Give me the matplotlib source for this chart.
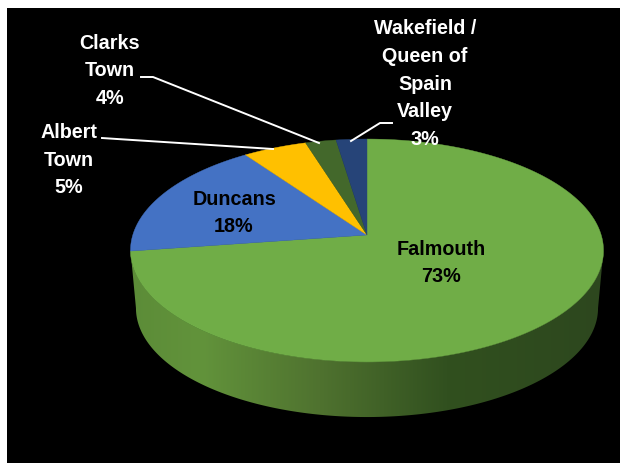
import numpy as np
import matplotlib
matplotlib.use("Agg")
import matplotlib.pyplot as plt
from matplotlib.patches import Rectangle, Polygon
from matplotlib.colors import LinearSegmentedColormap

categories = ["Falmouth", "Duncans", "Albert\nTown", "Clarks\nTown",
              "Wakefield /\nQueen of\nSpain\nValley"]
pct_labels = ["73%", "18%", "5%", "4%", "3%"]
# slice sizes as drawn; the printed labels don't quite match the geometry
shares = [72.7, 17.5, 5.0, 2.4, 2.4]

colors = ["#70AD47", "#4472C4", "#FFC000", "#43682B", "#264478"]
label_colors = ["black", "black", "white", "white", "white"]
label_pos = [(441, 263), (234, 213), (69, 160), (110, 71), (425, 84)]
leaders = [None, None,
           [(102, 138), (117, 139), (273, 149)],
           [(141, 77), (153, 77), (319, 143)],
           [(392, 123), (380, 123), (351, 141)]]

# perspective pie: k tilts the disc, apex is where the slices meet
K = 0.139


def project(theta, apex_x=367.0, apex_y=235.0, sx=234.2, sy=109.3):
    u, v = np.sin(theta), np.cos(theta)
    w = 1 + K * v
    return apex_x + sx * u / w, apex_y - sy * v / w


fig = plt.figure(figsize=(6.2, 4.63), dpi=100, facecolor="white")
ax = fig.add_axes([0, 0, 1, 1])
ax.axis("off")
ax.add_patch(Rectangle((7, 8), 613, 455, facecolor="black", edgecolor="none", zorder=0))

# side wall: lower half of the top rim + lower half of the bottom rim
th = np.linspace(np.pi / 2 + 0.139, 3 * np.pi / 2 - 0.139, 300)
tx, ty = project(th)
bx, by = project(th, apex_y=293.0, sx=228.8, sy=106.8)
wall_pts = np.column_stack([np.r_[tx, bx[::-1]], np.r_[ty, by[::-1]]])
wall = Polygon(wall_pts, closed=True, transform=ax.transData, facecolor="none", edgecolor="none")
ax.add_patch(wall)
wall_cmap = LinearSegmentedColormap.from_list(
    "wall",
    [(0.0, "#2d471e"), (0.33, "#31501f"), (0.60, "#4f722f"), (0.85, "#62933b"), (1.0, "#5c8c38")],
)
img = ax.imshow(np.linspace(1, 0, 256)[None, :], cmap=wall_cmap, vmin=0, vmax=1, aspect="auto",
                extent=(130, 604, 420, 240), zorder=1)
img.set_clip_path(wall)

# top face
edges = np.cumsum([0] + shares) / sum(shares) * 2 * np.pi
for start, end, col in zip(edges[:-1], edges[1:], colors):
    x, y = project(np.linspace(start, end, 200))
    ax.fill(np.r_[367, x], np.r_[235, y], facecolor=col, edgecolor=col, linewidth=0.3, zorder=2)

for cat, pct, pos, tc, lead in zip(categories, pct_labels, label_pos, label_colors, leaders):
    ax.text(pos[0], pos[1], cat + "\n" + pct, color=tc, ha="center", va="center", ma="center",
            fontsize=14.2, fontweight="bold", family="Liberation Sans",
            linespacing=1.58, zorder=4)
    if lead:
        ax.plot(*zip(*lead), color="white", linewidth=1.4, solid_joinstyle="round", zorder=3)

ax.set_xlim(0, 620)
ax.set_ylim(463, 0)
fig.savefig("out.png", dpi=100, facecolor="white")
